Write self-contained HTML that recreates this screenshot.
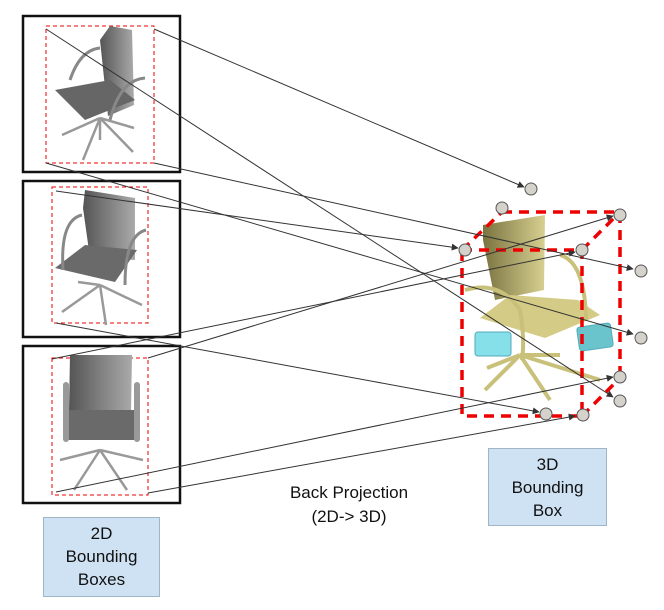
<!DOCTYPE html>
<html><head><style>
body{margin:0;background:#fff;width:664px;height:610px;overflow:hidden;font-family:"Liberation Sans",sans-serif}
.lbl{position:absolute;background:#cfe2f3;border:1px solid #9fb6c9;text-align:center;font-size:17px;line-height:23px;color:#111;box-sizing:border-box;padding-top:4px}
</style></head><body>
<svg width="664" height="610" style="position:absolute;left:0;top:0">
<defs>
<marker id="a" viewBox="0 0 10 10" refX="9" refY="5" markerWidth="7" markerHeight="7" orient="auto"><path d="M0,0L10,5L0,10z" fill="#333"/></marker>
<linearGradient id="g" x1="0" x2="1"><stop offset="0" stop-color="#555"/><stop offset="1" stop-color="#aaa"/></linearGradient>
<linearGradient id="y" x1="0" x2="1"><stop offset="0" stop-color="#7a7340"/><stop offset="1" stop-color="#d8d090"/></linearGradient>
</defs>
<g fill="none" stroke="#111" stroke-width="2.5">
<rect x="23" y="16" width="157" height="156"/>
<rect x="23" y="181" width="157" height="156"/>
<rect x="23" y="346" width="157" height="157"/>
</g>
<g fill="none" stroke="#e00" stroke-width="1" stroke-dasharray="4,3">
<rect x="46" y="26" width="108" height="137"/>
<rect x="52" y="187" width="96" height="136"/>
<rect x="52" y="358" width="96" height="137"/>
</g>
<g>
<path d="M100,40 L110,26 L132,30 L134,105 L108,116 Z" fill="url(#g)"/>
<path d="M55,90 L110,80 L135,100 L85,120 Z" fill="#666"/>
<path d="M70,80 Q80,50 100,48" stroke="#888" stroke-width="3" fill="none"/>
<path d="M110,120 Q120,80 145,78" stroke="#888" stroke-width="3" fill="none"/>
<path d="M100,118 L62,135 M100,118 L83,160 M100,118 L134,128 M100,118 L133,152 M100,118 L100,140" stroke="#999" stroke-width="2.5"/>
<path d="M83,208 L85,190 L135,198 L135,260 L90,258 Z" fill="url(#g)"/>
<path d="M55,268 L85,245 L137,250 L115,282 Z" fill="#6a6a6a"/>
<path d="M63,270 Q60,220 82,215" stroke="#888" stroke-width="3" fill="none"/>
<path d="M125,285 Q125,235 146,230" stroke="#888" stroke-width="3" fill="none"/>
<path d="M100,285 L62,312 M100,285 L106,325 M100,285 L142,305 M100,285 L78,282" stroke="#999" stroke-width="2.5"/>
<path d="M70,355 L132,355 L131,412 L69,412 Z" fill="url(#g)"/>
<path d="M66,410 L135,410 L137,440 L66,440 Z" fill="#6a6a6a"/>
<rect x="63" y="382" width="6" height="60" rx="3" fill="#999"/>
<rect x="134" y="382" width="6" height="60" rx="3" fill="#999"/>
<path d="M100,450 L60,460 M100,450 L74,490 M100,450 L127,490 M100,450 L143,460" stroke="#999" stroke-width="2.5"/>
</g>
<g>
<path d="M483,240 L483,225 L545,215 L544,290 L495,300 Z" fill="url(#y)"/>
<path d="M480,318 L510,295 L578,300 L600,315 L545,338 Z" fill="#d4cb86"/>
<path d="M465,290 Q500,280 520,310 Q525,340 522,360" stroke="#c9c07a" stroke-width="4" fill="none"/>
<path d="M560,255 Q585,262 586,320" stroke="#c9c07a" stroke-width="4" fill="none"/>
<path d="M520,355 L485,390 M520,355 L550,400 M520,355 L600,380 M520,355 L560,355 M520,355 L487,368" stroke="#c9c07a" stroke-width="4"/>
<rect x="475" y="332" width="36" height="24" rx="3" fill="#86e0ea" stroke="#5ab" stroke-width="1"/>
<rect x="578" y="325" width="34" height="24" rx="3" fill="#6ac4cc" stroke="#5ab" stroke-width="1" transform="rotate(-8 595 337)"/>
</g>
<g stroke="#e00" stroke-width="3.5" stroke-dasharray="10,7" fill="none">
<rect x="462" y="250" width="120" height="166"/>
<path d="M502,212 L620,212 L620,378"/>
<path d="M462,250 L502,212 M582,250 L620,212 M582,416 L620,378"/>
</g>
<g stroke="#333" stroke-width="1" fill="none" marker-end="url(#a)">
<line x1="154" y1="29" x2="524" y2="187"/>
<line x1="46" y1="29" x2="613" y2="397"/>
<line x1="46" y1="163" x2="633" y2="334"/>
<line x1="154" y1="163" x2="633" y2="269"/>
<line x1="56" y1="191" x2="458" y2="248"/>
<line x1="56" y1="323" x2="539" y2="412"/>
<line x1="52" y1="359" x2="575" y2="252"/>
<line x1="148" y1="358" x2="613" y2="216"/>
<line x1="56" y1="492" x2="613" y2="377"/>
<line x1="148" y1="493" x2="575" y2="416"/>
</g>
<g fill="#d5d2cc" stroke="#555" stroke-width="1">
<circle cx="531" cy="189" r="6"/><circle cx="502" cy="208" r="6"/><circle cx="620" cy="215" r="6"/>
<circle cx="465" cy="250" r="6"/><circle cx="582" cy="250" r="6"/><circle cx="641" cy="271" r="6"/>
<circle cx="641" cy="338" r="6"/><circle cx="620" cy="377" r="6"/><circle cx="620" cy="401" r="6"/>
<circle cx="546" cy="414" r="6"/><circle cx="583" cy="415" r="6"/>
</g>
<text x="349" y="498" font-size="17" text-anchor="middle" fill="#111">Back Projection</text>
<text x="349" y="522" font-size="17" text-anchor="middle" fill="#111">(2D-&gt; 3D)</text>
</svg>
<div class="lbl" style="left:43px;top:517px;width:117px;height:80px">2D<br>Bounding<br>Boxes</div>
<div class="lbl" style="left:488px;top:448px;width:119px;height:78px">3D<br>Bounding<br>Box</div>
</body></html>
